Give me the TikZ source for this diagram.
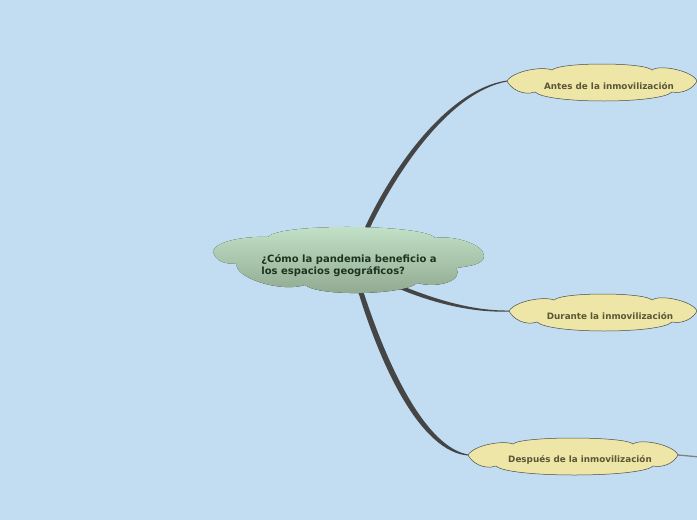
\documentclass[tikz,border=0pt]{standalone}
\usepackage{fontspec}
\setmainfont{DejaVu Sans}
\usetikzlibrary{calc}
\definecolor{mapSky}{HTML}{C2DDF1}
\definecolor{mapRootTop}{HTML}{C4E4CA}
\definecolor{mapRootBottom}{HTML}{8EA78E}
\definecolor{mapRootText}{HTML}{1E331F}
\definecolor{mapIdea}{HTML}{EEE6A6}
\definecolor{mapIdeaText}{HTML}{5A5638}
\definecolor{mapLine}{HTML}{454545}
\definecolor{mapEdge}{HTML}{4A4A4A}
\pgfdeclarelayer{paper}
\pgfdeclarelayer{links}
\pgfdeclarelayer{shapes}
\pgfsetlayers{paper,links,shapes,main}
\tikzset{
  root text/.style={align=left, inner sep=0pt,
    font=\fontsize{10}{12}\selectfont\bfseries, text=mapRootText},
  idea text/.style={inner sep=0pt,
    font=\fontsize{8.8}{10}\selectfont\bfseries, text=mapIdeaText},
  root outline/.style={top color=mapRootTop, bottom color=mapRootBottom,
    draw=none},
  idea outline/.style={fill=mapIdea, draw=mapEdge, semithin},
  semithin/.style={line width=0.5pt},
  branch/.style={fill=mapLine, draw=none},
  stub/.style={draw=black!50, line width=1.3pt}
}
% cloud round an idea node: #1 node, #2 half width
\newcommand\ideaoutline[2]{%
  \coordinate (#1-tip) at ($(#1.center)+(-7-#2,-5)$);
  \coordinate (#1-tail) at ($(#1.center)+(-7+#2,-5)$);
  \filldraw[idea outline] (#1-tip)
    .. controls +(6,-10) and +(-10,-4) .. ($(#1-tip)+(45,-11)$)
    .. controls +(8,-8) and +(-8,-8) .. ($(#1-tail)+(-45,-11)$)
    .. controls +(8,-6) and +(-4,-10) .. (#1-tail)
    .. controls +(-4,8) and +(10,2) .. ($(#1-tail)+(-25,11)$)
    .. controls +(-12,12) and +(12,12) .. ($(#1-tip)+(28,11)$)
    .. controls +(-12,4) and +(4,8) .. (#1-tip) -- cycle;
}
\begin{document}
\begin{tikzpicture}[x=1pt,y=-1pt]
  \begin{pgfonlayer}{paper}
    \fill[mapSky] (0,0) rectangle (697,520);
  \end{pgfonlayer}
  \useasboundingbox (0,0) rectangle (697,520);
  \clip (0,0) rectangle (697,520);
  \node[root text] (root) at (349,266)
    {¿Cómo la pandemia beneficio a\\los espacios geográficos?};
  \node[idea text] (antes) at (609,86) {Antes de la inmovilización};
  \node[idea text] (durante) at (610,316) {Durante la inmovilización};
  \node[idea text] (despues) at (580,460) {Después de la inmovilización};
  \coordinate (offright) at (700,457);
  \begin{pgfonlayer}{shapes}
    \fill[root outline] ($(root.center)+(-136,-15)$)
      .. controls +(3,-10) and +(-22,-1) .. ($(root.center)+(-81,-29)$)
      .. controls +(10,-14) and +(-10,-14) .. ($(root.center)+(86,-28)$)
      .. controls +(18,-3) and +(0,-12) .. ($(root.center)+(135,-10)$)
      .. controls +(0,8) and +(15,-2) .. ($(root.center)+(107,2)$)
      .. controls +(8,12) and +(22,6) .. ($(root.center)+(68,17)$)
      .. controls +(-12,12) and +(14,12) .. ($(root.center)+(-44,19)$)
      .. controls +(-25,8) and +(-5,14) .. ($(root.center)+(-112,-3)$)
      .. controls +(-12,2) and +(2,10) .. ($(root.center)+(-136,-15)$) -- cycle;
    \ideaoutline{antes}{95}
    \ideaoutline{durante}{94}
    \ideaoutline{despues}{105}
  \end{pgfonlayer}
  % tapered branches, behind the clouds
  \begin{pgfonlayer}{links}
    \fill[branch] ($(root.center)+(12.5,-31)$) .. controls (391,168) and (448,89)
      .. ($(antes-tip)+(0,-0.5)$) -- ($(antes-tip)+(0,0.5)$)
      .. controls (450,92) and (396,171) .. ($(root.center)+(17.5,-31)$) -- cycle;
    \fill[branch] ($(root.center)+(40,14.5)$) .. controls (430,298) and (470,311)
      .. ($(durante-tip)+(0,-0.5)$) -- ($(durante-tip)+(0,0.5)$)
      .. controls (470,313) and (428,302) .. ($(root.center)+(40,18.5)$) -- cycle;
    \fill[branch] ($(root.center)+(6,15)$) .. controls (382,374) and (423,452)
      .. ($(despues-tip)+(0,0.5)$) -- ($(despues-tip)+(0,-0.5)$)
      .. controls (427,447) and (388,371) .. ($(root.center)+(11,15)$) -- cycle;
    \draw[stub] (despues-tail) -- (offright);
  \end{pgfonlayer}
\end{tikzpicture}
\end{document}
